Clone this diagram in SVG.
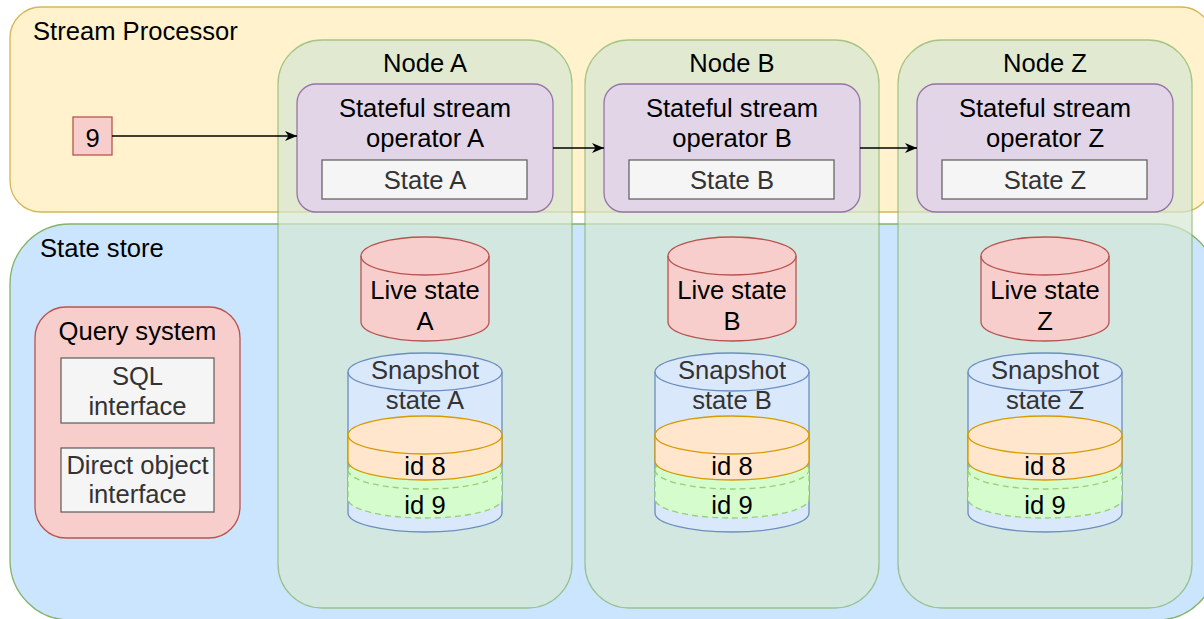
<svg xmlns="http://www.w3.org/2000/svg" xmlns:xlink="http://www.w3.org/1999/xlink" width="1204" height="619" viewBox="0 0 1204 619">
  <style>
    text { font-family: "Liberation Sans", Arial, Helvetica, sans-serif; font-size: 25.6px; fill: #000000; }
    .c { text-anchor: middle; }
    .grey { fill: #333333; }
    .proc { fill: #fff2cc; stroke: #d6b656; stroke-width: 1.3; }
    .store { fill: #cce5ff; stroke: #82b366; stroke-width: 1.3; }
    .node-box { fill: #d5e8d4; stroke: #82b366; stroke-width: 1.3; opacity: 0.7; }
    .op { fill: #e1d5e7; stroke: #9673a6; stroke-width: 1.3; }
    .plain { fill: #f5f5f5; stroke: #666666; stroke-width: 1.3; }
    .red { fill: #f8cecc; stroke: #b85450; stroke-width: 1.3; }
    .snap { fill: #dae8fc; stroke: #6c8ebf; stroke-width: 1.3; }
    .v8 { fill: #ffe6cc; stroke: #d79b00; stroke-width: 1.3; }
    .v9 { fill: #d5fccc; stroke: #97d077; stroke-width: 1.3; stroke-dasharray: 6 4; }
    .edge { fill: none; stroke: #000000; stroke-width: 1.3; }
  </style>
  <defs>
    <marker id="arrow" markerUnits="userSpaceOnUse" markerWidth="14" markerHeight="12" refX="12" refY="5" orient="auto">
      <path d="M0,0 L12,5 L0,10 L3.5,5 Z" fill="#000000"/>
    </marker>
    <!-- cylinders, drawn around x = 0 -->
    <g id="cyl-live">
      <path d="M-64,256 A64,19 0 0 1 64,256 L64,322 A64,19 0 0 1 -64,322 Z"/>
      <path d="M-64,256 A64,19 0 0 0 64,256" fill="none"/>
    </g>
    <g id="cyl-snap">
      <path d="M-77,372 A77,19 0 0 1 77,372 L77,513 A77,19 0 0 1 -77,513 Z"/>
      <path d="M-77,372 A77,19 0 0 0 77,372" fill="none"/>
    </g>
    <g id="cyl-v9">
      <path d="M-77,470 A77,19 0 0 1 77,470 L77,499 A77,19 0 0 1 -77,499 Z"/>
      <path d="M-77,470 A77,19 0 0 0 77,470" fill="none"/>
    </g>
    <g id="cyl-v8">
      <path d="M-77,435 A77,19 0 0 1 77,435 L77,461 A77,19 0 0 1 -77,461 Z"/>
      <path d="M-77,435 A77,19 0 0 0 77,435" fill="none"/>
    </g>
  </defs>

  <rect width="1204" height="619" fill="#ffffff"/>

  <!-- containers -->
  <g id="stream-processor">
    <rect class="proc" x="10" y="7" width="1202" height="205" rx="31" ry="31"/>
    <text x="33" y="40">Stream Processor</text>
  </g>
  <g id="state-store">
    <rect class="store" x="10" y="224" width="1207" height="396" rx="60" ry="60"/>
    <text x="40" y="257">State store</text>
  </g>

  <g id="query-system">
    <rect class="red" x="35" y="307" width="205" height="231" rx="31" ry="31"/>
    <text class="c" x="137.5" y="340">Query system</text>
  </g>
  <g id="sql-interface">
    <rect class="plain" x="61" y="358" width="153" height="65"/>
    <text class="c grey" x="137.5" y="385">SQL</text>
    <text class="c grey" x="137.5" y="415">interface</text>
  </g>
  <g id="direct-object-interface">
    <rect class="plain" x="61" y="448" width="153" height="64"/>
    <text class="c grey" x="137.5" y="474">Direct object</text>
    <text class="c grey" x="137.5" y="503">interface</text>
  </g>

  <g id="input-9">
    <rect class="red" x="73" y="117" width="39" height="38"/>
    <text class="c" x="92.5" y="147">9</text>
  </g>

  <!-- Node A -->
  <g id="node-a">
    <rect class="node-box" x="278" y="40" width="294" height="568" rx="44" ry="44"/>
    <text class="c" x="425" y="72">Node A</text>
  </g>
  <g id="operator-a">
    <rect class="op" x="297" y="84" width="256" height="128" rx="19" ry="19"/>
    <text class="c" x="425" y="117">Stateful stream</text>
    <text class="c" x="425" y="147">operator A</text>
  </g>
  <g id="state-a">
    <rect class="plain" x="322" y="160" width="205" height="39"/>
    <text class="c grey" x="425" y="189">State A</text>
  </g>
  <g id="live-state-a">
    <use xlink:href="#cyl-live" x="425" class="red"/>
    <text class="c" x="425" y="299">Live state</text>
    <text class="c" x="425" y="330">A</text>
  </g>
  <g id="snapshot-a">
    <use xlink:href="#cyl-snap" x="425" class="snap"/>
    <text class="c grey" x="425" y="379">Snapshot</text>
    <text class="c grey" x="425" y="409">state A</text>
  </g>
  <g id="snapshot-a-id9">
    <use xlink:href="#cyl-v9" x="425" class="v9"/>
    <text class="c" x="425" y="514">id 9</text>
  </g>
  <g id="snapshot-a-id8">
    <use xlink:href="#cyl-v8" x="425" class="v8"/>
    <text class="c" x="425" y="475">id 8</text>
  </g>

  <!-- Node B -->
  <g id="node-b">
    <rect class="node-box" x="585" y="40" width="294" height="568" rx="44" ry="44"/>
    <text class="c" x="732" y="72">Node B</text>
  </g>
  <g id="operator-b">
    <rect class="op" x="604" y="84" width="256" height="128" rx="19" ry="19"/>
    <text class="c" x="732" y="117">Stateful stream</text>
    <text class="c" x="732" y="147">operator B</text>
  </g>
  <g id="state-b">
    <rect class="plain" x="629" y="160" width="205" height="39"/>
    <text class="c grey" x="732" y="189">State B</text>
  </g>
  <g id="live-state-b">
    <use xlink:href="#cyl-live" x="732" class="red"/>
    <text class="c" x="732" y="299">Live state</text>
    <text class="c" x="732" y="330">B</text>
  </g>
  <g id="snapshot-b">
    <use xlink:href="#cyl-snap" x="732" class="snap"/>
    <text class="c grey" x="732" y="379">Snapshot</text>
    <text class="c grey" x="732" y="409">state B</text>
  </g>
  <g id="snapshot-b-id9">
    <use xlink:href="#cyl-v9" x="732" class="v9"/>
    <text class="c" x="732" y="514">id 9</text>
  </g>
  <g id="snapshot-b-id8">
    <use xlink:href="#cyl-v8" x="732" class="v8"/>
    <text class="c" x="732" y="475">id 8</text>
  </g>

  <!-- Node Z -->
  <g id="node-z">
    <rect class="node-box" x="898" y="40" width="294" height="568" rx="44" ry="44"/>
    <text class="c" x="1045" y="72">Node Z</text>
  </g>
  <g id="operator-z">
    <rect class="op" x="917" y="84" width="256" height="128" rx="19" ry="19"/>
    <text class="c" x="1045" y="117">Stateful stream</text>
    <text class="c" x="1045" y="147">operator Z</text>
  </g>
  <g id="state-z">
    <rect class="plain" x="942" y="160" width="205" height="39"/>
    <text class="c grey" x="1045" y="189">State Z</text>
  </g>
  <g id="live-state-z">
    <use xlink:href="#cyl-live" x="1045" class="red"/>
    <text class="c" x="1045" y="299">Live state</text>
    <text class="c" x="1045" y="330">Z</text>
  </g>
  <g id="snapshot-z">
    <use xlink:href="#cyl-snap" x="1045" class="snap"/>
    <text class="c grey" x="1045" y="379">Snapshot</text>
    <text class="c grey" x="1045" y="409">state Z</text>
  </g>
  <g id="snapshot-z-id9">
    <use xlink:href="#cyl-v9" x="1045" class="v9"/>
    <text class="c" x="1045" y="514">id 9</text>
  </g>
  <g id="snapshot-z-id8">
    <use xlink:href="#cyl-v8" x="1045" class="v8"/>
    <text class="c" x="1045" y="475">id 8</text>
  </g>

  <!-- connectors -->
  <g id="connectors">
    <path class="edge" d="M112,136 L297,136" marker-end="url(#arrow)"/>
    <path class="edge" d="M553,148 L604,148" marker-end="url(#arrow)"/>
    <path class="edge" d="M860,148 L917,148" marker-end="url(#arrow)"/>
  </g>
</svg>
